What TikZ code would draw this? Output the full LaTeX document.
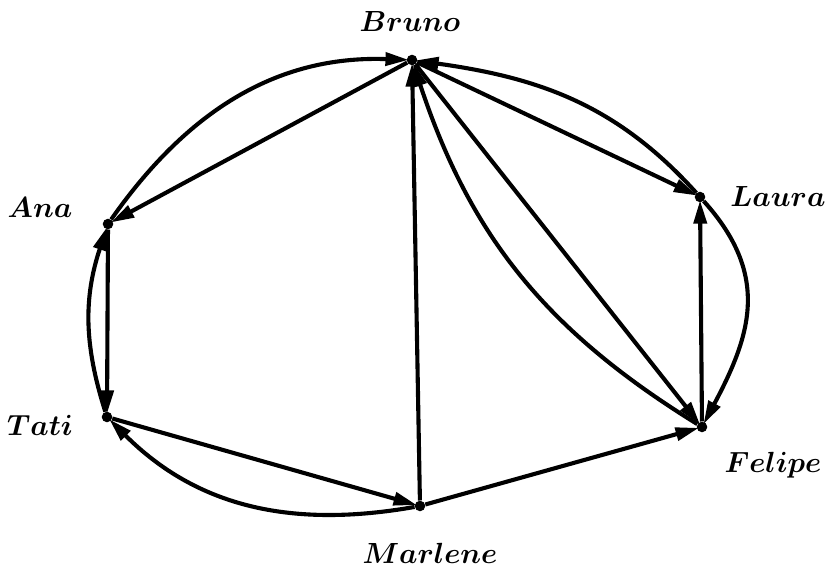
\documentclass[tikz,border=0pt]{standalone}
\usepackage{amsmath}
\usetikzlibrary{arrows.meta}
\begin{document}
\begin{tikzpicture}[x=0.03cm,y=0.03cm,
  vert/.style={circle,fill=black,inner sep=0pt,minimum size=9pt},
  lbl/.style={font=\fontsize{24}{28}\selectfont\boldmath},
  edge/.style={line width=3.5pt,-{Triangle[length=20pt,width=11pt]}, shorten >=-2pt}]
\useasboundingbox (0,0) rectangle (825,569);
\node[vert] (B) at (412,509) {};
\node[vert] (A) at (108,345) {};
\node[vert] (L) at (700,372) {};
\node[vert] (T) at (107,152) {};
\node[vert] (F) at (702,142) {};
\node[vert] (M) at (420,63) {};
\node[lbl] (lB) at (410,547) {$Bruno$};
\node[lbl] (lA) at (40,361) {$Ana$};
\node[lbl] (lL) at (778,372) {$Laura$};
\node[lbl] (lT) at (40,144) {$Tati$};
\node[lbl] (lF) at (773,104) {$Felipe$};
\node[lbl] (lM) at (430,16) {$Marlene$};
\draw[edge] (B) -- (A);
\draw[edge] (A) to[out=55,in=178] (B);
\draw[edge] (B) -- (L);
\draw[edge] (L) to[out=132,in=-8] (B);
\draw[edge] (L) to[out=-48,in=62,looseness=1.15] (F);
\draw[edge] (F) -- (L);
\draw[edge] (B) -- (F);
\draw[edge] (F) to[bend left=20] (B);
\draw[edge] (M) -- (B);
\draw[edge] (M) -- (F);
\draw[edge] (T) -- (M);
\draw[edge] (M) to[out=190,in=-45] (T);
\draw[edge] (A) -- (T);
\draw[edge] (T) to[bend left=18] (A);
\end{tikzpicture}
\end{document}
